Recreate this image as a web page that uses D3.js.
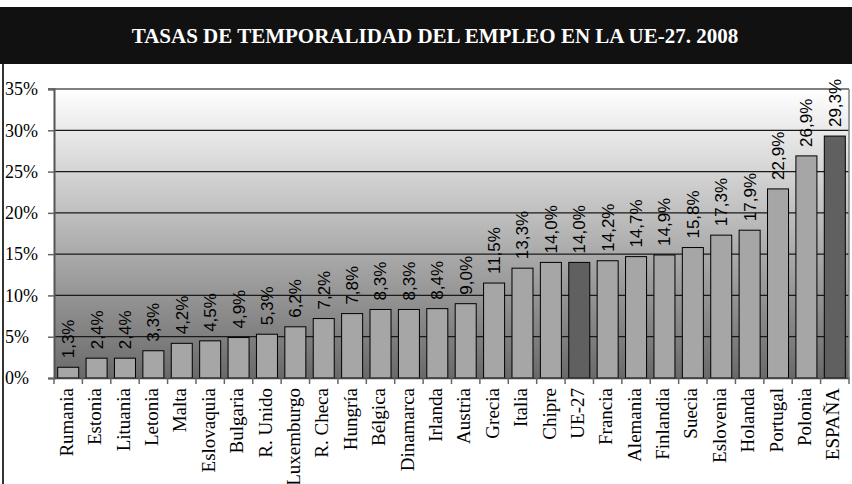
<!DOCTYPE html>
<html><head><meta charset="utf-8">
<script src="https://cdn.jsdelivr.net/npm/d3@7"></script>
<style>body{margin:0;background:#fff}svg{display:block}</style>
</head><body>
<svg id="c" width="852" height="484"></svg>
<script>
const title = "TASAS DE TEMPORALIDAD DEL EMPLEO EN LA UE-27. 2008";
const categories = ["Rumania","Estonia","Lituania","Letonia","Malta","Eslovaquia","Bulgaria","R. Unido","Luxemburgo","R. Checa","Hungría","Bélgica","Dinamarca","Irlanda","Austria","Grecia","Italia","Chipre","UE-27","Francia","Alemania","Finlandia","Suecia","Eslovenia","Holanda","Portugal","Polonia","ESPAÑA"];
const values = [1.3,2.4,2.4,3.3,4.2,4.5,4.9,5.3,6.2,7.2,7.8,8.3,8.3,8.4,9.0,11.5,13.3,14.0,14.0,14.2,14.7,14.9,15.8,17.3,17.9,22.9,26.9,29.3];
const highlighted = ["UE-27","ESPAÑA"];
const yTicks = [0,5,10,15,20,25,30,35];

const svg = d3.select("#c");
const L = 54, R = 849, T = 89, B = 378;
const x = d3.scaleBand().domain(categories).range([L, R]).paddingInner(0.26).paddingOuter(0.13);
const y = d3.scaleLinear().domain([0, 35]).range([B, T]);

const defs = svg.append("defs");
const g = defs.append("linearGradient").attr("id","bg").attr("x1",0).attr("y1",0).attr("x2",0).attr("y2",1);
g.append("stop").attr("offset","0%").attr("stop-color","#ffffff");
g.append("stop").attr("offset","100%").attr("stop-color","#6a6a6a");

// left frame line
svg.append("line").attr("x1",3).attr("x2",3).attr("y1",38).attr("y2",484).attr("stroke","#333").attr("stroke-width",2);

// title bar
svg.append("rect").attr("x",0).attr("y",7).attr("width",852).attr("height",57).attr("fill","#111");
svg.append("text").attr("x",435).attr("y",43).attr("text-anchor","middle")
  .attr("font-family","'Liberation Serif','Times New Roman',serif").attr("font-weight","bold")
  .attr("font-size",21).attr("fill","#fff").text(title);

// plot background
svg.append("rect").attr("x",L).attr("y",T).attr("width",R-L).attr("height",B-T).attr("fill","url(#bg)");

// gridlines
svg.append("g").selectAll("line").data(yTicks.filter(d=>d>0 && d<35)).join("line")
  .attr("x1",L).attr("x2",R).attr("y1",d=>y(d)).attr("y2",d=>y(d))
  .attr("stroke","#1a1a1a").attr("stroke-width",1.2);
svg.append("line").attr("x1",L-6).attr("x2",R).attr("y1",y(35)).attr("y2",y(35)).attr("stroke","#808080").attr("stroke-width",2);
svg.append("line").attr("x1",R).attr("x2",R).attr("y1",T).attr("y2",B).attr("stroke","#808080").attr("stroke-width",1.5);

// bars
svg.append("g").selectAll("rect").data(categories).join("rect")
  .attr("x",d=>x(d)).attr("width",x.bandwidth())
  .attr("y",(d,i)=>y(values[i])).attr("height",(d,i)=>B-y(values[i]))
  .attr("fill",d=>highlighted.includes(d)?"#606060":"#a6a6a6")
  .attr("stroke","#000").attr("stroke-width",1);

// value labels
svg.append("g").selectAll("text").data(categories).join("text")
  .attr("transform",(d,i)=>`translate(${x(d)+x.bandwidth()/2},${y(values[i])-9}) rotate(-90)`)
  .attr("dy","0.35em")
  .attr("font-family","'Liberation Sans',Arial,sans-serif").attr("font-size",17).attr("fill","#000")
  .text((d,i)=>values[i].toFixed(1).replace(".",",")+"%");

// y axis
const yAxis = d3.axisLeft(y).tickValues(yTicks).tickSize(6).tickFormat(d=>d+"%");
const ya = svg.append("g").attr("transform",`translate(${L},0)`).call(yAxis);
ya.select(".domain").attr("stroke","#555").attr("stroke-width",2);
ya.selectAll(".tick line").attr("stroke","#666").attr("stroke-width",1.5);
ya.selectAll(".tick text").attr("x",-L+5).attr("text-anchor","start").attr("dy","0.32em")
  .attr("font-family","'Liberation Serif','Times New Roman',serif").attr("font-size",18).attr("fill","#000");

// x axis
const xAxis = d3.axisBottom(x).tickSize(0);
const xa = svg.append("g").attr("transform",`translate(0,${B})`).call(xAxis);
xa.select(".domain").attr("stroke","#444").attr("stroke-width",1.5);
xa.selectAll(".tick text").attr("transform","translate(-2,10) rotate(-90)").attr("text-anchor","end")
  .attr("x",0).attr("y",0).attr("dy","0.35em")
  .attr("font-family","'Liberation Serif','Times New Roman',serif").attr("font-size",19).attr("fill","#000");
// boundary ticks
const bounds = d3.range(categories.length+1).map(i=>L + i*(R-L)/categories.length);
svg.append("g").selectAll("line").data(bounds).join("line")
  .attr("x1",d=>d).attr("x2",d=>d).attr("y1",B).attr("y2",B+6)
  .attr("stroke","#666").attr("stroke-width",1.5);
</script>
</body></html>
